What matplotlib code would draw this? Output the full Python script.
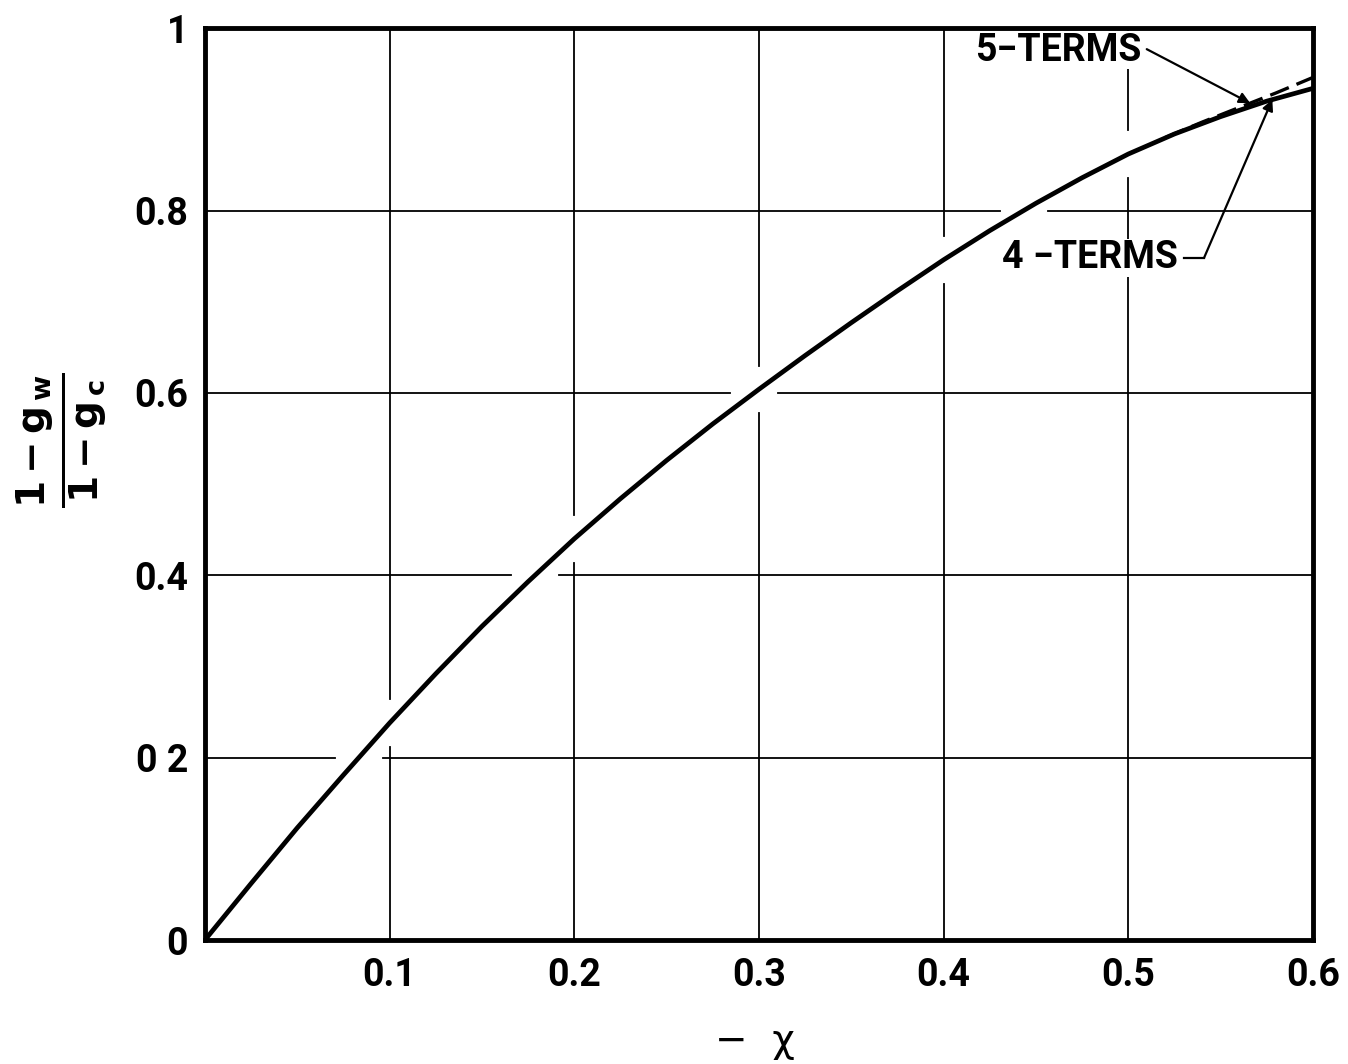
import numpy as np
import matplotlib
matplotlib.use('Agg')
import matplotlib.pyplot as plt

plt.rcParams['font.family'] = ['Roboto', 'DejaVu Sans']
plt.rcParams['mathtext.fontset'] = 'dejavusans'

# curve values (4-term series, full range)
chi_4 = [0.0, 0.025, 0.05, 0.075, 0.1, 0.125, 0.15, 0.175, 0.2, 0.225, 0.25,
         0.275, 0.3, 0.325, 0.35, 0.375, 0.4, 0.425, 0.45, 0.475, 0.5,
         0.525, 0.55, 0.575, 0.6]
ratio_4 = [0.0, 0.062, 0.123, 0.181, 0.238, 0.292, 0.344, 0.393, 0.440, 0.484, 0.526,
           0.566, 0.604, 0.641, 0.677, 0.712, 0.746, 0.778, 0.808, 0.836, 0.862,
           0.884, 0.903, 0.920, 0.934]

# 5-term series, only where it leaves the 4-term curve
chi_5 = [0.52, 0.54, 0.56, 0.58, 0.6]
ratio_5 = [0.880, 0.897, 0.913, 0.929, 0.946]

x_ticks = [0.1, 0.2, 0.3, 0.4, 0.5, 0.6]
x_labels = ['0.1', '0.2', '0.3', '0.4', '0.5', '0.6']
y_ticks = [0, 0.2, 0.4, 0.6, 0.8, 1.0]
y_labels = ['0', '0 2', '0.4', '0.6', '0.8', '1']

fig = plt.figure(figsize=(13.48, 10.64), dpi=100)
ax = fig.add_axes([0.152, 0.1165, 0.822, 0.857])
ax.set_xlim(0, 0.6)
ax.set_ylim(0, 1)

# grid lines, broken where the curve crosses them (drafting style)
gx, gy = 0.013, 0.026
for xv in x_ticks[:-1]:
    yc = np.interp(xv, chi_4, ratio_4)
    ax.plot([xv, xv], [0, yc - gy], color='black', lw=1.3, zorder=1)
    ax.plot([xv, xv], [yc + gy, 1], color='black', lw=1.3, zorder=1)
for yv in y_ticks[1:-1]:
    xc = np.interp(yv, ratio_4, chi_4)
    ax.plot([0, xc - gx], [yv, yv], color='black', lw=1.3, zorder=1)
    ax.plot([xc + gx, 0.6], [yv, yv], color='black', lw=1.3, zorder=1)

ax.plot(chi_4, ratio_4, color='black', lw=3.4, solid_capstyle='round',
        solid_joinstyle='round', zorder=3)
ax.plot(chi_5, ratio_5, color='black', lw=2.4, dashes=(6, 2.5), zorder=3)

for s in ax.spines.values():
    s.set_linewidth(3.5)
    s.set_zorder(5)

ax.set_xticks(x_ticks)
ax.set_xticklabels(x_labels)
ax.set_yticks(y_ticks)
ax.set_yticklabels(y_labels)
ax.tick_params(length=0, labelsize=27, pad=12)
for t in ax.get_xticklabels() + ax.get_yticklabels():
    t.set_fontweight('bold')

# annotations
arrow = dict(arrowstyle='-|>', color='black', lw=1.6, mutation_scale=16,
             shrinkA=0, shrinkB=0)
ax.text(0.462, 0.976, '5\u2212TERMS', fontsize=27, fontweight='bold',
        ha='center', va='center', zorder=4,
        bbox=dict(fc='white', ec='none', pad=0.5))
ax.annotate('', xy=(0.566, np.interp(0.566, chi_5, ratio_5)), xytext=(0.510, 0.977),
            arrowprops=arrow, zorder=4)
ax.text(0.479, 0.748, '4 \u2212TERMS', fontsize=27, fontweight='bold',
        ha='center', va='center', zorder=4,
        bbox=dict(fc='white', ec='none', pad=0.5))
ax.plot([0.530, 0.541], [0.748, 0.748], color='black', lw=1.6, zorder=4)
ax.annotate('', xy=(0.578, np.interp(0.578, chi_4, ratio_4)), xytext=(0.541, 0.748),
            arrowprops=arrow, zorder=4)

# axis labels
fig.text(0.046, 0.586, r'$\mathbf{\frac{1-g_{\,w}}{1-g_{\,c}}}$', rotation=90,
         fontsize=40, ha='center', va='center')
fig.text(0.56, 0.022, '\u2212  \u03c7', fontsize=28, ha='center', va='center',
         family='DejaVu Sans')

fig.savefig('out.png', dpi=100)
